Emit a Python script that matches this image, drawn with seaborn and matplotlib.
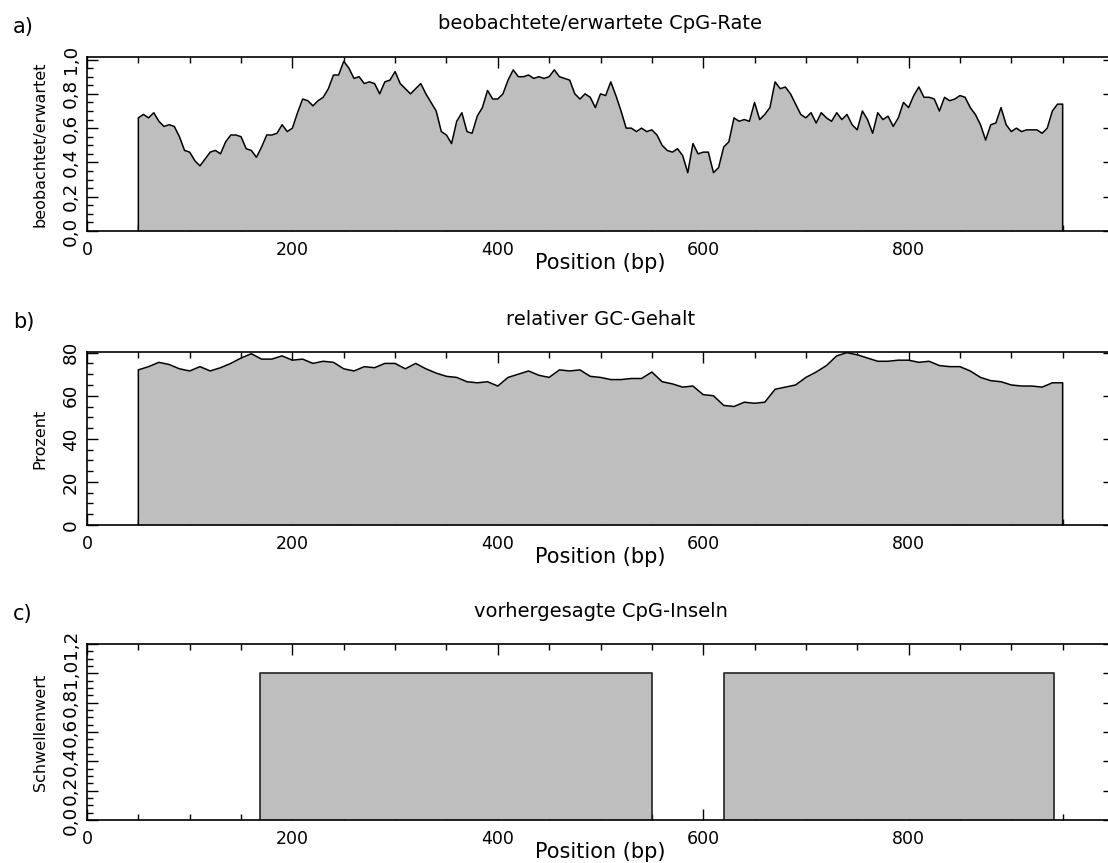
import numpy as np
import pandas as pd
import matplotlib
matplotlib.use("Agg")
import matplotlib.pyplot as plt
from matplotlib.ticker import MultipleLocator, FuncFormatter
import seaborn as sns

# ---------------- data ----------------
# a) observed/expected CpG ratio, values every 5 bp starting at 50 bp
cpg_start = 50
cpg_step = 5
cpg_ratio = [
    0.66, 0.68, 0.66, 0.69, 0.64, 0.61, 0.62, 0.61, 0.55, 0.47,   # 50-95
    0.46, 0.41, 0.38, 0.42, 0.46, 0.47, 0.45, 0.52, 0.56, 0.56,   # 100-145
    0.55, 0.48, 0.47, 0.43, 0.49, 0.56, 0.56, 0.57, 0.62, 0.58,   # 150-195
    0.60, 0.69, 0.77, 0.76, 0.73, 0.76, 0.78, 0.83, 0.91, 0.91,   # 200-245
    0.99, 0.95, 0.89, 0.90, 0.86, 0.87, 0.86, 0.80, 0.87, 0.88,   # 250-295
    0.93, 0.86, 0.83, 0.80, 0.83, 0.86, 0.80, 0.75, 0.70, 0.58,   # 300-345
    0.56, 0.51, 0.64, 0.69, 0.58, 0.57, 0.67, 0.72, 0.82, 0.77,   # 350-395
    0.77, 0.80, 0.88, 0.94, 0.90, 0.90, 0.91, 0.89, 0.90, 0.89,   # 400-445
    0.90, 0.94, 0.90, 0.89, 0.88, 0.80, 0.77, 0.80, 0.78, 0.72,   # 450-495
    0.80, 0.79, 0.87, 0.79, 0.70, 0.60, 0.60, 0.58, 0.60, 0.58,   # 500-545
    0.59, 0.56, 0.50, 0.47, 0.46, 0.48, 0.44, 0.34, 0.51, 0.45,   # 550-595
    0.46, 0.46, 0.34, 0.37, 0.49, 0.52, 0.66, 0.64, 0.65, 0.64,   # 600-645
    0.75, 0.65, 0.68, 0.72, 0.87, 0.83, 0.84, 0.80, 0.74, 0.68,   # 650-695
    0.66, 0.69, 0.63, 0.69, 0.66, 0.64, 0.69, 0.65, 0.68, 0.62,   # 700-745
    0.59, 0.70, 0.65, 0.57, 0.69, 0.65, 0.67, 0.61, 0.66, 0.75,   # 750-795
    0.72, 0.79, 0.84, 0.78, 0.78, 0.77, 0.70, 0.78, 0.76, 0.77,   # 800-845
    0.79, 0.78, 0.72, 0.68, 0.62, 0.53, 0.62, 0.63, 0.72, 0.62,   # 850-895
    0.58, 0.60, 0.58, 0.59, 0.59, 0.59, 0.57, 0.60, 0.70, 0.74,   # 900-945
]

# b) relative GC content in percent, values every 10 bp starting at 50 bp
gc_start = 50
gc_step = 10
gc_percent = [
    72.0, 73.5, 75.5, 74.5, 72.5, 71.5, 73.5, 71.5, 73.0, 75.0,   # 50-140
    77.5, 79.5, 77.0, 77.0, 78.5, 76.5, 77.0, 75.0, 76.0, 75.5,   # 150-240
    72.5, 71.5, 73.5, 73.0, 75.0, 75.0, 72.5, 75.0, 72.5, 70.5,   # 250-340
    69.0, 68.5, 66.5, 66.0, 66.5, 64.5, 68.5, 70.0, 71.5, 69.5,   # 350-440
    68.5, 72.0, 71.5, 72.0, 69.0, 68.5, 67.5, 67.5, 68.0, 68.0,   # 450-540
    71.0, 66.5, 65.5, 64.0, 64.5, 60.5, 60.0, 55.5, 55.0, 57.0,   # 550-640
    56.5, 57.0, 63.0, 64.0, 65.0, 68.5, 71.0, 74.0, 78.5, 80.0,   # 650-740
    79.0, 77.5, 76.0, 76.0, 76.5, 76.5, 75.5, 76.0, 74.0, 73.5,   # 750-840
    73.5, 71.5, 68.5, 67.0, 66.5, 65.0, 64.5, 64.5, 64.0, 66.0,   # 850-940
]
seq_end = 950

# c) predicted CpG islands
island_starts = [168, 620]
island_ends = [550, 942]
island_level = 1.0

titles = ["beobachtete/erwartete CpG-Rate", "relativer GC-Gehalt", "vorhergesagte CpG-Inseln"]
ylabels = ["beobachtet/erwartet", "Prozent", "Schwellenwert"]
letters = ["a)", "b)", "c)"]
xlabel = "Position (bp)"

# ---------------- style ----------------
sns.set_style("ticks")
plt.rcParams['font.family'] = ['DejaVu Sans']
plt.rcParams['text.color'] = 'black'
plt.rcParams['axes.labelcolor'] = 'black'
plt.rcParams['xtick.color'] = 'black'
plt.rcParams['ytick.color'] = 'black'
plt.rcParams['axes.linewidth'] = 1.2

FIG_W, FIG_H = 1108, 863
fig = plt.figure(figsize=(FIG_W / 100, FIG_H / 100), dpi=100)

left_px, right_px = 87, 1114          # x=0 and x=1000
panel_px = [(57, 231), (352, 525), (644, 820)]   # top, bottom in pixels

FILL = "#bebebe"


def comma_fmt(decimals):
    def f(v, pos):
        s = f"{v:.{decimals}f}"
        return s.replace(".", ",")
    return FuncFormatter(f)


def x_fmt(v, pos):
    return "" if v > 900 else f"{v:.0f}"


def line_frame(start, step, values, end):
    xs = [start] + [start + i * step for i in range(len(values))] + [end, end]
    ys = [0.0] + list(values) + [values[-1], 0.0]
    return pd.DataFrame({"pos": xs, "val": ys})


axes = []
for i, (top, bot) in enumerate(panel_px):
    ax = fig.add_axes([left_px / FIG_W, 1 - bot / FIG_H,
                       (right_px - left_px) / FIG_W, (bot - top) / FIG_H])
    axes.append(ax)

# a)
df_a = line_frame(cpg_start, cpg_step, cpg_ratio, seq_end)
axes[0].fill_between(df_a["pos"], df_a["val"], color=FILL, lw=0)
sns.lineplot(data=df_a, x="pos", y="val", ax=axes[0], color="black", lw=1.1,
             sort=False, estimator=None)

# b)
df_b = line_frame(gc_start, gc_step, gc_percent, seq_end)
axes[1].fill_between(df_b["pos"], df_b["val"], color=FILL, lw=0)
sns.lineplot(data=df_b, x="pos", y="val", ax=axes[1], color="black", lw=1.1,
             sort=False, estimator=None)

# c)
for s, e in zip(island_starts, island_ends):
    df_c = pd.DataFrame({"pos": [s, s, e, e], "val": [0, island_level, island_level, 0]})
    axes[2].fill_between(df_c["pos"], df_c["val"], color=FILL, lw=0)
    sns.lineplot(data=df_c, x="pos", y="val", ax=axes[2], color="#222222", lw=1.2,
                 sort=False, estimator=None)

ylims = [(0, 1.015), (0, 80.3), (0, 1.2)]
ymaj = [0.2, 20, 0.2]
ymin = [0.05, 5, 0.05]
yfmt = [comma_fmt(1), FuncFormatter(lambda v, p: f"{v:.0f}"), comma_fmt(1)]

for i, ax in enumerate(axes):
    top, bot = panel_px[i]
    h = bot - top
    ax.set_xlim(0, 1000)
    ax.set_ylim(*ylims[i])
    ax.xaxis.set_major_locator(MultipleLocator(200))
    ax.xaxis.set_minor_locator(MultipleLocator(50))
    ax.xaxis.set_major_formatter(FuncFormatter(x_fmt))
    ax.yaxis.set_major_locator(MultipleLocator(ymaj[i]))
    ax.yaxis.set_minor_locator(MultipleLocator(ymin[i]))
    ax.yaxis.set_major_formatter(yfmt[i])
    ax.tick_params(which="both", direction="in", top=True, right=True,
                   color="black", width=1.0)
    ax.tick_params(which="major", length=8)
    ax.tick_params(which="minor", length=4)
    ax.tick_params(axis="x", which="major", labelsize=12.5, pad=7)
    ax.tick_params(axis="y", which="major", labelsize=13.2, pad=5)
    for lab in ax.get_yticklabels():
        lab.set_rotation(90)
        lab.set_va("center")
    for sp in ax.spines.values():
        sp.set_color("black")
        sp.set_linewidth(1.2)

    ax.set_xlabel(xlabel, fontsize=15)
    ax.xaxis.label.set_va("center")
    ax.xaxis.set_label_coords(0.5, -32 / h)
    ax.set_ylabel(ylabels[i], fontsize=11.5)
    ax.yaxis.label.set_va("center")
    ax.yaxis.set_label_coords(-47 / (right_px - left_px), 0.5)

    ax.text(0.5, 1 + 33 / h, titles[i], transform=ax.transAxes,
            ha="center", va="center", fontsize=14)
    fig.text(13 / FIG_W, 1 - (top - 30) / FIG_H, letters[i],
             ha="left", va="center", fontsize=15)

fig.savefig("out.png", dpi=100)
